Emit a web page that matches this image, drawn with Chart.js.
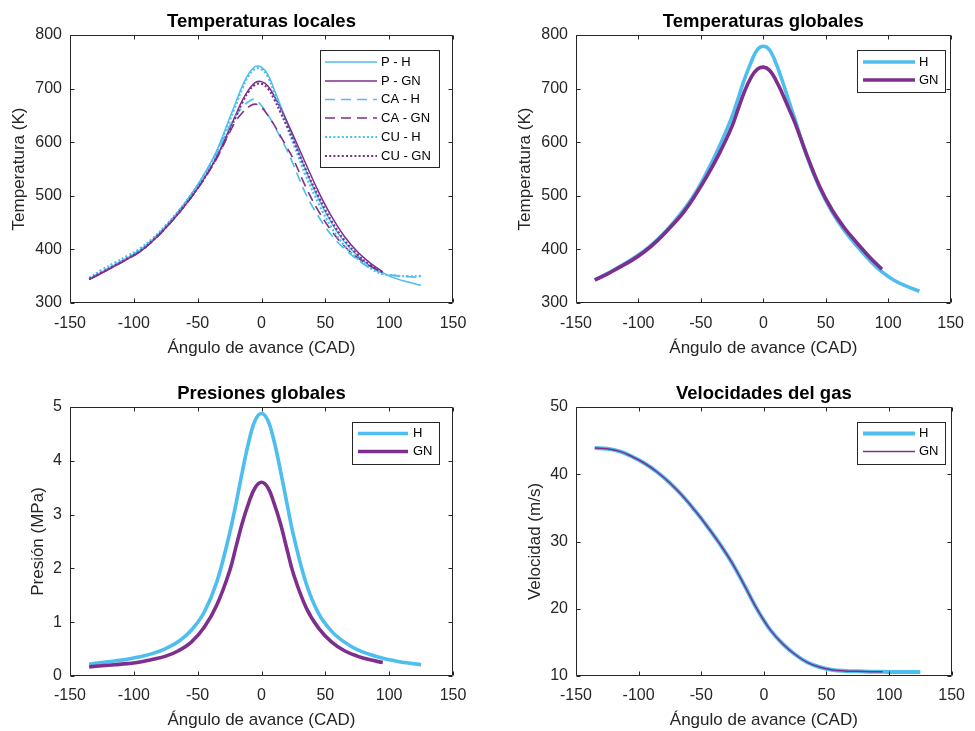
<!DOCTYPE html>
<html><head><meta charset="utf-8">
<script src="https://cdn.jsdelivr.net/npm/chart.js@4.4.1/dist/chart.umd.min.js"></script>
<style>
html,body{margin:0;padding:0;background:#fff;}
#wrap{position:relative;width:975px;height:731px;background:#fff;}
canvas{position:absolute;left:0;top:0;}
</style></head><body>
<div id="wrap">
<canvas id="c1" width="975" height="731"></canvas>
<canvas id="c2" width="975" height="731"></canvas>
<canvas id="c3" width="975" height="731"></canvas>
<canvas id="c4" width="975" height="731"></canvas>
</div>
<script>
// ---------- DATA ----------
const xTicks = [-150, -100, -50, 0, 50, 100, 150];

// Temperaturas locales (K)
const locH_x  = [-135,-125,-115,-105,-95,-85,-75,-65,-55,-45,-35,-25,-20,-15,-10,-5,0,5,10,15,20,25,35,45,55,65,75,85,95,105,115,125];
const locGN_x = [-135,-125,-115,-105,-95,-85,-75,-65,-55,-45,-35,-25,-20,-15,-10,-5,0,5,10,15,20,25,35,45,55,65,75,85,95];
const locPH_y   = [345,358,371,384,399,419,443,471,503,540,585,645,675,705,728,741,740,726,698,668,638,607,546,493,449,414,389,369,356,346,339,333];
const locPGN_y  = [344,356,369,382,396,416,440,467,497,532,573,625,652,678,698,711,713,705,686,663,638,612,558,506,461,424,396,375,358];
const locCAH_y  = [345,358,371,384,399,419,443,471,502,538,580,630,650,665,676,680,668,652,630,608,585,558,502,460,426,401,381,366,356,351,349,348];
const locCAGN_y = [344,356,369,382,396,416,440,467,497,531,570,618,640,655,666,671,665,650,632,611,590,568,515,470,434,406,385,369,357];
const locCUH_y  = [347,362,375,388,402,421,445,472,503,539,582,640,670,700,724,737,736,722,692,660,628,597,536,484,440,407,383,365,354,351,350,350];
const locCUGN_y = [345,357,370,383,397,417,441,468,498,532,572,622,648,674,695,707,709,700,680,655,630,603,547,497,452,417,391,371,357];

// Temperaturas globales (K)
const gloH_x  = [-135,-125,-115,-105,-95,-85,-75,-65,-55,-45,-35,-25,-20,-15,-10,-5,0,5,10,15,20,25,35,45,55,65,75,85,95,105,115,125];
const gloH_y  = [343,355,368,382,398,418,442,470,503,545,593,648,683,718,748,772,779,772,748,716,680,645,573,515,470,435,406,380,358,342,331,322];
const gloGN_x = [-135,-125,-115,-105,-95,-85,-75,-65,-55,-45,-35,-25,-20,-15,-10,-5,0,5,10,15,20,25,35,45,55,65,75,85,95];
const gloGN_y = [343,354,367,380,396,416,440,466,499,537,580,630,663,695,720,736,740,734,716,692,665,638,575,518,474,440,412,386,363];

// Presiones globales (MPa)
const preH_x  = [-135,-125,-115,-105,-95,-85,-75,-65,-55,-45,-35,-25,-20,-15,-10,-5,0,5,10,15,20,25,35,45,55,65,75,85,95,105,115,125];
const preH_y  = [0.22,0.25,0.28,0.31,0.36,0.42,0.51,0.64,0.85,1.18,1.75,2.65,3.2,3.8,4.35,4.75,4.88,4.75,4.35,3.8,3.2,2.62,1.72,1.15,0.83,0.63,0.49,0.4,0.33,0.28,0.24,0.21];
const preGN_x = [-135,-125,-115,-105,-95,-85,-75,-65,-55,-45,-35,-25,-20,-15,-10,-5,0,5,10,15,20,25,35,45,55,65,75,85,95];
const preGN_y = [0.17,0.19,0.21,0.23,0.26,0.31,0.37,0.47,0.63,0.9,1.32,1.95,2.4,2.85,3.22,3.5,3.6,3.5,3.2,2.82,2.35,1.9,1.27,0.88,0.63,0.47,0.37,0.3,0.25];

// Velocidades del gas (m/s)
const velH_x  = [-135,-125,-115,-105,-95,-85,-75,-65,-55,-45,-35,-25,-15,-5,5,15,25,35,45,55,65,75,85,95,105,115,125];
const velH_y  = [43.9,43.8,43.4,42.6,41.6,40.3,38.7,36.8,34.6,32.2,29.6,26.7,23.3,19.8,16.9,14.8,13.2,12.0,11.3,10.9,10.75,10.7,10.65,10.62,10.6,10.6,10.6];
const velGN_x = [-135,-125,-115,-105,-95,-85,-75,-65,-55,-45,-35,-25,-15,-5,5,15,25,35,45,55,65,75,85,95];
const velGN_y = [43.9,43.8,43.4,42.6,41.6,40.3,38.7,36.8,34.6,32.2,29.6,26.7,23.3,19.8,16.9,14.8,13.2,12.0,11.3,10.9,10.75,10.7,10.65,10.62];

// ---------- STYLE ----------
const FONT = '"Liberation Sans", Arial, Helvetica, sans-serif';
const AX = '#262626';
const BLUE = '#4DBEEE', PURPLE = '#7E2F8E';

function pts(xs, ys) { return xs.map((x, i) => ({ x: x, y: ys[i] })); }

const matlab = {
  id: 'matlab',
  afterDatasetsDraw(chart, args, o) {
    const ctx = chart.ctx, a = chart.chartArea, xs = chart.scales.x, ys = chart.scales.y;
    ctx.save();
    ctx.strokeStyle = AX; ctx.lineWidth = 1; ctx.setLineDash([]);
    const L = Math.round(a.left) + 0.5, R = Math.round(a.right) - 0.5, T = Math.round(a.top) + 0.5, B = Math.round(a.bottom) - 0.5;
    ctx.beginPath();
    ctx.rect(L, T, R - L, B - T);
    xs.ticks.forEach(t => { const p = Math.round(xs.getPixelForValue(t.value)) + 0.5; ctx.moveTo(p, B); ctx.lineTo(p, B - 4); ctx.moveTo(p, T); ctx.lineTo(p, T + 4); });
    ys.ticks.forEach(t => { const p = Math.round(ys.getPixelForValue(t.value)) + 0.5; ctx.moveTo(L, p); ctx.lineTo(L + 4, p); ctx.moveTo(R, p); ctx.lineTo(R - 4, p); });
    ctx.stroke();
    const cx = (a.left + a.right) / 2, cy = (a.top + a.bottom) / 2;
    ctx.fillStyle = '#000'; ctx.font = 'bold 18.5px ' + FONT; ctx.textAlign = 'center'; ctx.textBaseline = 'alphabetic';
    ctx.fillText(o.title, cx, o.titleY);
    ctx.fillStyle = AX; ctx.font = '17px ' + FONT;
    ctx.fillText(o.xlabel, cx, o.xlabelY);
    ctx.save(); ctx.translate(o.ylabelX, cy); ctx.rotate(-Math.PI / 2); ctx.textBaseline = 'middle'; ctx.fillText(o.ylabel, 0, 0); ctx.restore();
    const lg = o.legend;
    ctx.fillStyle = '#fff'; ctx.fillRect(lg.x, lg.y, lg.w, lg.h);
    ctx.strokeStyle = AX; ctx.lineWidth = 1; ctx.strokeRect(lg.x + 0.5, lg.y + 0.5, lg.w, lg.h);
    chart.data.datasets.forEach((ds, i) => {
      const y = lg.rows[i];
      ctx.beginPath(); ctx.strokeStyle = ds.borderColor; ctx.lineWidth = ds.borderWidth;
      ctx.setLineDash(ds.borderDash || []); ctx.lineCap = 'butt';
      ctx.moveTo(lg.x1, y); ctx.lineTo(lg.x2, y); ctx.stroke(); ctx.setLineDash([]);
      ctx.fillStyle = '#000'; ctx.font = '13px ' + FONT; ctx.textAlign = 'left'; ctx.textBaseline = 'middle';
      ctx.fillText(ds.label, lg.tx, y);
    });
    ctx.restore();
  }
};

function makeChart(id, datasets, cfg) {
  return new Chart(document.getElementById(id), {
    type: 'line',
    data: { datasets: datasets },
    options: {
      responsive: false, animation: false, devicePixelRatio: 1,
      layout: { padding: cfg.pad },
      plugins: { legend: { display: false }, tooltip: { enabled: false }, title: { display: false }, matlab: cfg.m },
      elements: { point: { radius: 0 }, line: { tension: 0.4, borderCapStyle: 'butt', borderJoinStyle: 'round', fill: false } },
      scales: {
        x: { type: 'linear', min: -150, max: 150,
             afterBuildTicks: s => { s.ticks = xTicks.map(v => ({ value: v })); },
             ticks: { padding: cfg.xpad, color: AX, font: { family: FONT, size: 16 }, maxRotation: 0, autoSkip: false },
             grid: { display: false, drawTicks: false }, border: { display: false },
             afterFit: s => { s.height = cfg.xh; } },
        y: { type: 'linear', min: cfg.yTicks[0], max: cfg.yTicks[cfg.yTicks.length - 1],
             afterBuildTicks: s => { s.ticks = cfg.yTicks.map(v => ({ value: v })); },
             ticks: { padding: 8, color: AX, font: { family: FONT, size: 16 }, autoSkip: false },
             grid: { display: false, drawTicks: false }, border: { display: false },
             afterFit: s => { s.width = 70; } }
      }
    },
    plugins: [matlab]
  });
}

function ds(label, xs, ys, color, width, dash, order) {
  return { label: label, data: pts(xs, ys), borderColor: color, backgroundColor: color, borderWidth: width, borderDash: dash, order: order,
           tension: 0.4, cubicInterpolationMode: 'default', pointRadius: 0 };
}

const DASH = [10, 6], DOT = [2, 2.2];

makeChart('c1', [
  ds('P - H', locH_x, locPH_y, BLUE, 1.5, [], 6),
  ds('P - GN', locGN_x, locPGN_y, PURPLE, 1.5, [], 5),
  ds('CA - H', locH_x, locCAH_y, BLUE, 1.6, DASH, 4),
  ds('CA - GN', locGN_x, locCAGN_y, PURPLE, 1.6, DASH, 3),
  ds('CU - H', locH_x, locCUH_y, BLUE, 2.2, DOT, 2),
  ds('CU - GN', locGN_x, locCUGN_y, PURPLE, 2.2, DOT, 1)
], { pad: { left: 0, top: 35, right: 522, bottom: 368 }, xh: 60, xpad: 11, yTicks: [300, 400, 500, 600, 700, 800],
     m: { title: 'Temperaturas locales', titleY: 27, xlabel: 'Ángulo de avance (CAD)', xlabelY: 353, ylabel: 'Temperatura (K)', ylabelX: 19,
          legend: { x: 320, y: 50, w: 119, h: 117, x1: 325, x2: 377, tx: 381, rows: [62, 81, 99.5, 118, 137, 156] } } });

makeChart('c2', [
  ds('H', gloH_x, gloH_y, BLUE, 3.6, [], 2),
  ds('GN', gloGN_x, gloGN_y, PURPLE, 3.6, [], 1)
], { pad: { left: 506, top: 35, right: 16, bottom: 368 }, xh: 60, xpad: 11, yTicks: [300, 400, 500, 600, 700, 800],
     m: { title: 'Temperaturas globales', titleY: 27, xlabel: 'Ángulo de avance (CAD)', xlabelY: 353, ylabel: 'Temperatura (K)', ylabelX: 525,
          legend: { x: 857, y: 50, w: 88, h: 42, x1: 863, x2: 915, tx: 919, rows: [62, 80] } } });

makeChart('c3', [
  ds('H', preH_x, preH_y, BLUE, 3.6, [], 2),
  ds('GN', preGN_x, preGN_y, PURPLE, 3.6, [], 1)
], { pad: { left: 0, top: 407, right: 522, bottom: 0 }, xh: 55, xpad: 10, yTicks: [0, 1, 2, 3, 4, 5],
     m: { title: 'Presiones globales', titleY: 399, xlabel: 'Ángulo de avance (CAD)', xlabelY: 724.5, ylabel: 'Presión (MPa)', ylabelX: 38,
          legend: { x: 352, y: 422, w: 87, h: 42, x1: 358, x2: 408, tx: 413, rows: [433.5, 451.5] } } });

makeChart('c4', [
  ds('H', velH_x, velH_y, BLUE, 4, [], 2),
  ds('GN', velGN_x, velGN_y, PURPLE, 1.5, [], 1)
], { pad: { left: 506, top: 407, right: 16, bottom: 0 }, xh: 55, xpad: 10, yTicks: [10, 20, 30, 40, 50],
     m: { title: 'Velocidades del gas', titleY: 399, xlabel: 'Ángulo de avance (CAD)', xlabelY: 724.5, ylabel: 'Velocidad (m/s)', ylabelX: 535.5,
          legend: { x: 857, y: 422, w: 88, h: 42, x1: 863, x2: 915, tx: 919, rows: [433.5, 451.5] } } });
</script>
</body></html>
